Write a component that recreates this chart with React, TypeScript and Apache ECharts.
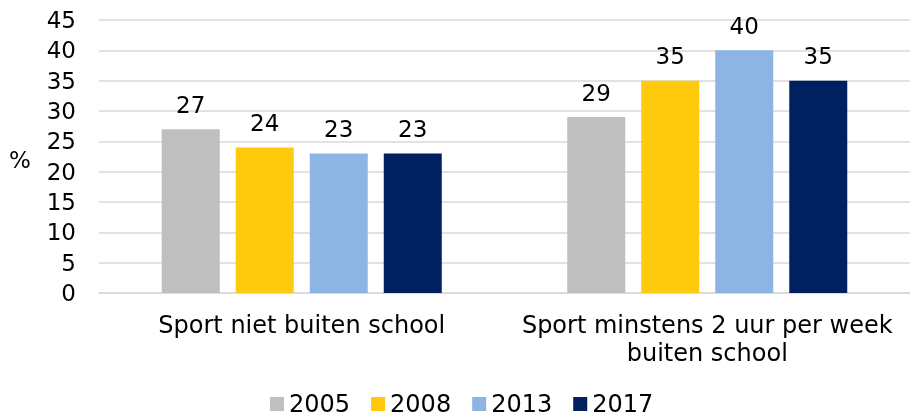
import React, { useEffect, useRef } from "react";
import * as echarts from "echarts";

const categories = ["Sport niet buiten school", "Sport minstens 2 uur per week\nbuiten school"];
const years = ["2005", "2008", "2013", "2017"];
const values2005 = [27, 29];
const values2008 = [24, 35];
const values2013 = [23, 40];
const values2017 = [23, 35];
const colors = ["#BFBFBF", "#FFC90E", "#8EB4E3", "#002060"];

export default function App() {
  const ref = useRef<HTMLDivElement>(null);
  useEffect(() => {
    if (!ref.current) return;
    const chart = echarts.init(ref.current, undefined, { renderer: "svg" });
    const font = "DejaVu Sans";
    const seriesData = [values2005, values2008, values2013, values2017];
    chart.setOption({
      animation: false,
      textStyle: { fontFamily: font },
      grid: { left: 99, top: 20, width: 815, height: 273, containLabel: false },
      legend: {
        data: years,
        left: 270,
        top: 392,
        padding: 0,
        itemWidth: 14,
        itemHeight: 14,
        itemGap: 21,
        icon: "rect",
        textStyle: { fontSize: 24, color: "#000", fontFamily: font },
      },
      graphic: [
        {
          type: "text",
          left: 9,
          top: 148,
          style: { text: "%", fontSize: 23, fill: "#000", fontFamily: font },
        },
      ],
      xAxis: {
        type: "category",
        data: categories,
        axisLine: { lineStyle: { color: "#D9D9D9", width: 1.5 } },
        axisTick: { show: false },
        axisLabel: {
          fontSize: 24,
          color: "#000",
          lineHeight: 28,
          margin: 18,
          interval: 0,
          fontFamily: font,
        },
      },
      yAxis: {
        type: "value",
        min: 0,
        max: 45,
        interval: 5,
        axisLine: { show: false },
        axisTick: { show: false },
        splitLine: { lineStyle: { color: "#D9D9D9", width: 1.5 } },
        axisLabel: { fontSize: 23, color: "#000", margin: 23, fontFamily: font },
      },
      series: years.map((y, i) => ({
        name: y,
        type: "bar",
        data: seriesData[i],
        barWidth: 58,
        barGap: "27.6%",
        itemStyle: { color: colors[i] },
        label: {
          show: true,
          position: "top",
          distance: 13,
          fontSize: 23,
          color: "#000",
          fontFamily: font,
        },
      })),
    });
    return () => chart.dispose();
  }, []);
  return <div ref={ref} style={{ position: "fixed", left: 0, top: 0, width: 910, height: 416 }} />;
}
